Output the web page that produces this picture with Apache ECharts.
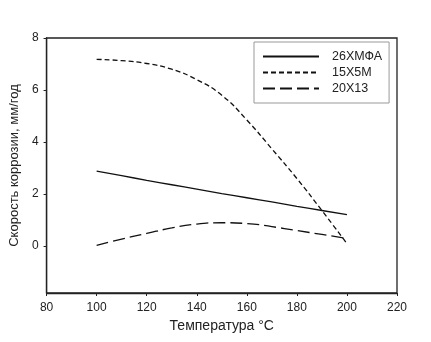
<!DOCTYPE html>
<html>
<head>
<meta charset="utf-8">
<script src="https://cdn.jsdelivr.net/npm/echarts@6/dist/echarts.min.js"></script>
<style>
  html, body { margin: 0; padding: 0; background: #fff; }
  #chart { width: 431px; height: 342px; }
</style>
</head>
<body>
<div id="chart"></div>
<script>
// temperature, °C
const temps = [100, 110, 120, 130, 140, 150, 160, 170, 180, 190, 200];
// corrosion rate, mm/year
const steel26 = [2.88, 2.71, 2.53, 2.36, 2.19, 2.02, 1.86, 1.70, 1.53, 1.37, 1.21];
const steel15 = [7.18, 7.13, 7.02, 6.80, 6.40, 5.80, 4.85, 3.74, 2.60, 1.37, 0.10];
const steel20 = [0.03, 0.27, 0.49, 0.70, 0.85, 0.90, 0.87, 0.75, 0.60, 0.45, 0.30];
const names = ["26ХМФА", "15Х5М", "20Х13"];
const xTicks = [80, 100, 120, 140, 160, 180, 200, 220];
const yTicks = [0, 2, 4, 6, 8];

const chart = echarts.init(document.getElementById("chart"));
const font = "Liberation Sans, Arial, sans-serif";

const pairs = vals => temps.map((t, i) => [t, vals[i]]);

const mkSeries = (name, vals, dash) => ({
  name: name,
  type: "line",
  data: pairs(vals),
  smooth: true,
  symbol: "none",
  itemStyle: { color: "#111" },
  lineStyle: { color: "#111", width: 1.3, type: dash }
});

const option = {
  animation: false,
  backgroundColor: "#fff",
  textStyle: { fontFamily: font },
  grid: {
    left: 42, right: 34, top: 38, bottom: 49,
    show: true, borderColor: "#222", borderWidth: 1.3
  },
  legend: {
    orient: "vertical",
    left: 254, top: 42,
    padding: [8, 7, 8, 8],
    itemWidth: 56, itemHeight: 12, itemGap: 3,
    borderColor: "#999", borderWidth: 1,
    itemStyle: { opacity: 0 },
    textStyle: { fontSize: 12.5, color: "#222", padding: [0, 0, 0, 8] },
    data: names
  },
  xAxis: {
    type: "value",
    min: 80, max: 220, interval: 20,
    name: "Температура °C",
    nameLocation: "middle",
    nameGap: 26,
    nameTextStyle: { fontSize: 14, color: "#222" },
    axisLine: { show: true, onZero: false, lineStyle: { color: "#222", width: 1.3 } },
    axisTick: { show: true, length: 3, lineStyle: { color: "#222" }, customValues: xTicks },
    axisLabel: { fontSize: 12, color: "#222", margin: 9, customValues: xTicks },
    splitLine: { show: false }
  },
  yAxis: {
    type: "value",
    min: -1.8, max: 8,
    name: "Скорость коррозии, мм/год",
    nameLocation: "middle",
    nameGap: 22,
    nameTextStyle: { fontSize: 13, color: "#222" },
    axisLine: { show: true, onZero: false, lineStyle: { color: "#222", width: 1.3 } },
    axisTick: { show: true, length: 3, lineStyle: { color: "#222" }, customValues: yTicks },
    axisLabel: { fontSize: 12, color: "#222", margin: 8, customValues: yTicks },
    splitLine: { show: false }
  },
  series: [
    mkSeries(names[0], steel26, "solid"),
    mkSeries(names[1], steel15, [5, 3]),
    mkSeries(names[2], steel20, [12, 5])
  ]
};

chart.setOption(option);
</script>
</body>
</html>
